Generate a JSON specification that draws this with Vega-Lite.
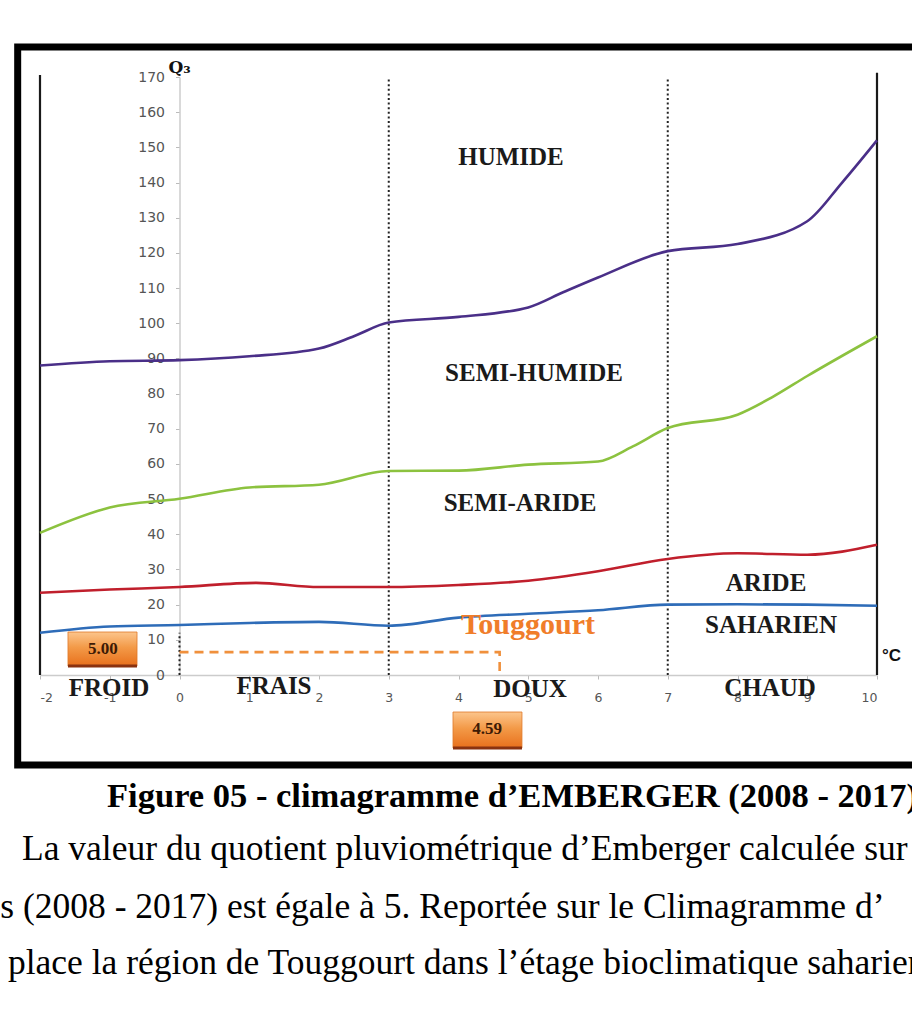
{
  "$schema": "https://vega.github.io/schema/vega-lite/v6.json",
  "width": 837,
  "height": 598,
  "autosize": {"type": "none"},
  "padding": {"left": 40, "top": 77, "right": 35, "bottom": 337},
  "background": "white",
  "config": {
    "view": {"stroke": null},
    "axis": {"grid": false, "domainColor": "#cccccc", "domainWidth": 1.5, "tickColor": "#bbbbbb", "tickSize": 4, "labelFont": "DejaVu Sans", "labelColor": "#555555"}
  },
  "datasets": {
    "curves": [
      {"x": -2, "y": 88.0, "s": "humide"}, {"x": -1, "y": 89.2, "s": "humide"}, {"x": 0, "y": 89.5, "s": "humide"}, {"x": 1, "y": 90.6, "s": "humide"}, {"x": 2, "y": 92.8, "s": "humide"}, {"x": 2.5, "y": 96.3, "s": "humide"}, {"x": 3, "y": 100.2, "s": "humide"}, {"x": 4, "y": 101.8, "s": "humide"}, {"x": 5, "y": 104.5, "s": "humide"}, {"x": 5.5, "y": 108.8, "s": "humide"}, {"x": 6, "y": 113.0, "s": "humide"}, {"x": 7, "y": 120.5, "s": "humide"}, {"x": 8, "y": 122.5, "s": "humide"}, {"x": 9, "y": 129.0, "s": "humide"}, {"x": 9.5, "y": 140.0, "s": "humide"}, {"x": 10, "y": 152.0, "s": "humide"},
      {"x": -2, "y": 40.4, "s": "semi"}, {"x": -1, "y": 47.6, "s": "semi"}, {"x": 0, "y": 50.1, "s": "semi"}, {"x": 1, "y": 53.3, "s": "semi"}, {"x": 2, "y": 54.1, "s": "semi"}, {"x": 3, "y": 58.0, "s": "semi"}, {"x": 4, "y": 58.1, "s": "semi"}, {"x": 5, "y": 59.8, "s": "semi"}, {"x": 6, "y": 60.7, "s": "semi"}, {"x": 6.5, "y": 65.0, "s": "semi"}, {"x": 7, "y": 70.2, "s": "semi"}, {"x": 8, "y": 74.0, "s": "semi"}, {"x": 8.5, "y": 79.0, "s": "semi"}, {"x": 9, "y": 85.0, "s": "semi"}, {"x": 10, "y": 96.3, "s": "semi"},
      {"x": -2, "y": 23.4, "s": "aride"}, {"x": -1, "y": 24.3, "s": "aride"}, {"x": 0, "y": 25.0, "s": "aride"}, {"x": 1.1, "y": 26.2, "s": "aride"}, {"x": 2, "y": 25.0, "s": "aride"}, {"x": 3, "y": 25.0, "s": "aride"}, {"x": 4, "y": 25.6, "s": "aride"}, {"x": 5, "y": 26.8, "s": "aride"}, {"x": 6, "y": 29.5, "s": "aride"}, {"x": 7, "y": 33.0, "s": "aride"}, {"x": 8, "y": 34.6, "s": "aride"}, {"x": 9, "y": 34.2, "s": "aride"}, {"x": 10, "y": 37.0, "s": "aride"},
      {"x": -2, "y": 12.0, "s": "saharien"}, {"x": -1, "y": 13.8, "s": "saharien"}, {"x": 0, "y": 14.2, "s": "saharien"}, {"x": 1, "y": 14.8, "s": "saharien"}, {"x": 2, "y": 15.1, "s": "saharien"}, {"x": 3, "y": 14.0, "s": "saharien"}, {"x": 4, "y": 16.3, "s": "saharien"}, {"x": 5, "y": 17.4, "s": "saharien"}, {"x": 6, "y": 18.4, "s": "saharien"}, {"x": 7, "y": 20.0, "s": "saharien"}, {"x": 8, "y": 20.1, "s": "saharien"}, {"x": 9, "y": 20.0, "s": "saharien"}, {"x": 10, "y": 19.7, "s": "saharien"}
    ],
    "zones": [
      {"x": 4.753, "y": 147.3, "t": "HUMIDE"},
      {"x": 5.082, "y": 85.9, "t": "SEMI-HUMIDE"},
      {"x": 4.882, "y": 48.9, "t": "SEMI-ARIDE"},
      {"x": 8.409, "y": 26.2, "t": "ARIDE"},
      {"x": 8.48, "y": 14.2, "t": "SAHARIEN"},
      {"x": -1.011, "y": -3.7, "t": "FROID"},
      {"x": 1.355, "y": -3.1, "t": "FRAIS"},
      {"x": 5.025, "y": -4.0, "t": "DOUX"},
      {"x": 8.466, "y": -3.7, "t": "CHAUD"}
    ],
    "boxes": [
      {"x": -1.599, "x2": -0.609, "y": 2.56, "y2": 12.22},
      {"x": 3.921, "x2": 4.91, "y": -20.75, "y2": -10.52}
    ],
    "boxlabels": [
      {"x": -1.1, "y": 7.3, "t": "5.00"},
      {"x": 4.41, "y": -15.4, "t": "4.59"}
    ],
    "para": [
      {"x": -2.258, "y": -49.5, "t": "La valeur du quotient pluviométrique d’Emberger calculée sur"},
      {"x": -2.57, "y": -65.95, "t": "s (2008 - 2017) est égale à 5. Reportée sur le Climagramme d’"},
      {"x": -2.459, "y": -81.9, "t": "place la région de Touggourt dans l’étage bioclimatique saharien"}
    ]
  },
  "encoding": {
    "x": {"field": "x", "type": "quantitative", "title": null,
      "scale": {"domain": [-2, 10], "nice": false, "zero": false},
      "axis": {"values": [-2, -1, 0, 1, 2, 3, 4, 5, 6, 7, 8, 9, 10], "labelOverlap": false, "labelExpr": "'' + datum.value", "labelFontSize": 12.5, "labelPadding": 12}},
    "y": {"field": "y", "type": "quantitative", "title": null,
      "scale": {"domain": [0, 170], "nice": false},
      "axis": {"values": [0, 10, 20, 30, 40, 50, 60, 70, 80, 90, 100, 110, 120, 130, 140, 150, 160, 170], "labelOverlap": false, "offset": -139.5, "labelFontSize": 14, "labelPadding": 11}}
  },
  "layer": [
    {
      "data": {"values": [{"x": -2.32, "x2": 11.5, "y": -25.6, "y2": 178.5}]},
      "mark": {"type": "rect", "filled": false, "stroke": "#000000", "strokeWidth": 7},
      "encoding": {"x2": {"field": "x2"}, "y2": {"field": "y2"}}
    },
    {
      "data": {"values": [{"x": -2, "y": 0, "y2": 170.6}, {"x": 10, "y": 0, "y2": 171.2}]},
      "mark": {"type": "rule", "color": "#1a1a1a", "strokeWidth": 2.2},
      "encoding": {"y2": {"field": "y2"}}
    },
    {
      "data": {"values": [{"x": 0, "y": 0, "y2": 12}, {"x": 3, "y": 0, "y2": 169.7}, {"x": 7, "y": 0, "y2": 169.7}]},
      "mark": {"type": "rule", "color": "#222222", "strokeWidth": 2, "strokeDash": [2, 2.6]},
      "encoding": {"y2": {"field": "y2"}}
    },
    {
      "data": {"name": "curves"},
      "mark": {"type": "line", "interpolate": "monotone", "strokeWidth": 2.6},
      "encoding": {
        "color": {"field": "s", "type": "nominal", "legend": null,
          "scale": {"domain": ["humide", "semi", "aride", "saharien"], "range": ["#4a2f88", "#8cc23f", "#c01f2c", "#2e6cb8"]}}
      }
    },
    {
      "data": {"values": [{"x": 0, "y": 6.5, "o": 1}, {"x": 4.59, "y": 6.5, "o": 2}, {"x": 4.59, "y": 0, "o": 3}]},
      "mark": {"type": "line", "color": "#f0903c", "strokeWidth": 2.6, "strokeDash": [9, 6]},
      "encoding": {"order": {"field": "o", "type": "quantitative"}}
    },
    {
      "data": {"name": "boxes"},
      "mark": {"type": "rect", "stroke": "#e07a2a", "strokeWidth": 0.8,
        "fill": {"gradient": "linear", "x1": 0, "y1": 0, "x2": 0, "y2": 1,
          "stops": [{"offset": 0, "color": "#fcc58c"}, {"offset": 0.45, "color": "#f39a48"}, {"offset": 1, "color": "#e8701c"}]}},
      "encoding": {"x2": {"field": "x2"}, "y2": {"field": "y2"}}
    },
    {
      "data": {"name": "boxes"},
      "mark": {"type": "rule", "color": "#8a3210", "strokeWidth": 3},
      "encoding": {"x2": {"field": "x2"}}
    },
    {
      "data": {"name": "boxlabels"},
      "mark": {"type": "text", "font": "Liberation Serif", "fontWeight": "bold", "fontSize": 17, "color": "#3d1a05", "baseline": "middle", "align": "center"},
      "encoding": {"text": {"field": "t"}}
    },
    {
      "data": {"name": "zones"},
      "mark": {"type": "text", "font": "Liberation Serif", "fontWeight": "bold", "fontSize": 25, "color": "#1a1a1a", "baseline": "middle", "align": "center"},
      "encoding": {"text": {"field": "t"}}
    },
    {
      "data": {"values": [{"x": 4.996, "y": 14.2, "t": "Touggourt"}]},
      "mark": {"type": "text", "font": "Liberation Serif", "fontWeight": "bold", "fontSize": 30, "color": "#f07d2a", "baseline": "middle", "align": "center"},
      "encoding": {"text": {"field": "t"}}
    },
    {
      "data": {"values": [{"x": 10.07, "y": 5.4, "t": "°C"}]},
      "mark": {"type": "text", "font": "Liberation Sans", "fontWeight": "bold", "fontSize": 17, "color": "#111111", "baseline": "middle", "align": "left"},
      "encoding": {"text": {"field": "t"}}
    },
    {
      "data": {"values": [{"x": 0.0, "y": 172.6, "t": "Q₃"}]},
      "mark": {"type": "text", "font": "DejaVu Serif", "fontWeight": "bold", "fontSize": 17, "color": "#111111", "baseline": "middle", "align": "center"},
      "encoding": {"text": {"field": "t"}}
    },
    {
      "data": {"values": [{"x": -1.039, "y": -34.7, "t": "Figure 05 - climagramme d’EMBERGER (2008 - 2017)"}]},
      "mark": {"type": "text", "font": "Liberation Serif", "fontWeight": "bold", "fontSize": 34.5, "color": "#000000", "baseline": "middle", "align": "left"},
      "encoding": {"text": {"field": "t"}}
    },
    {
      "data": {"name": "para"},
      "mark": {"type": "text", "font": "Liberation Serif", "fontSize": 35.5, "color": "#000000", "baseline": "middle", "align": "left"},
      "encoding": {"text": {"field": "t"}}
    }
  ]
}
